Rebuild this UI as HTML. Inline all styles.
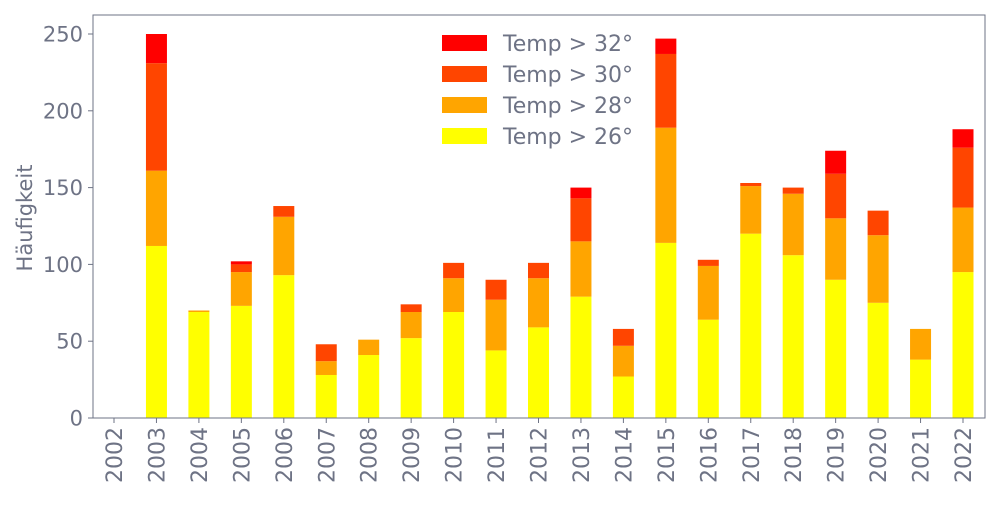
<!DOCTYPE html>
<html><head><meta charset="utf-8"><style>
body{margin:0;background:#fff;}
svg text{font-family:"DejaVu Sans","Liberation Sans",sans-serif;fill:#6e7385;}
</style></head><body>
<svg id="c" width="1000" height="500"></svg>
<script>
const years=[2002,2003,2004,2005,2006,2007,2008,2009,2010,2011,2012,2013,2014,2015,2016,2017,2018,2019,2020,2021,2022];
const t26=[0,112,69,73,93,28,41,52,69,44,59,79,27,114,64,120,106,90,75,38,95];
const t28=[0,49,1,22,38,9,10,17,22,33,32,36,20,75,35,31,40,40,44,20,42];
const t30=[0,70,0,5,7,11,0,5,10,13,10,28,11,48,4,2,4,29,16,0,39];
const t32=[0,19,0,2,0,0,0,0,0,0,0,7,0,10,0,0,0,15,0,0,12];
const yTicks=[0,50,100,150,200,250];
const seriesNames=["Temp > 26°","Temp > 28°","Temp > 30°","Temp > 32°"];
const colors=["#ffff00","#ffa500","#ff4500","#ff0000"];
const NS="http://www.w3.org/2000/svg";
const svg=document.getElementById('c');
const L=93,R=985,T=15,B=418;
const y=v=>B-v*(B-34)/250;
const x=i=>114+i*(963-114)/(years.length-1);
function el(t,a){const e=document.createElementNS(NS,t);for(const k in a)e.setAttribute(k,a[k]);svg.appendChild(e);return e;}
const series=[t26,t28,t30,t32];
years.forEach((yr,i)=>{
  let base=0;
  series.forEach((s,k)=>{
    const v=s[i];
    if(v>0){
      const r=el('rect',{x:x(i)-10.5,y:y(base+v),width:21,height:y(base)-y(base+v),fill:colors[k]});
      
      
    }
    base+=v;
  });
  const tk=el('line',{x1:x(i),x2:x(i),y1:B,y2:B+5,stroke:'#6e7385'});
  
  
  const tx=el('text',{x:0,y:0,'font-size':22,'text-anchor':'end',transform:`translate(${x(i)+8},${B+9}) rotate(-90)`});
  tx.textContent=yr;
  
  
});
yTicks.forEach(v=>{
  const tk=el('line',{x1:L-5,x2:L,y1:y(v),y2:y(v),stroke:'#6e7385'});
  
  
  const tx=el('text',{x:L-10,y:y(v)+7.5,'font-size':21,'text-anchor':'end'});
  tx.textContent=v;
  
  
});
const frame=el('rect',{x:L,y:T,width:R-L,height:B-T,fill:'none',stroke:'#6e7385','stroke-width':1});


const yl=el('text',{x:0,y:0,'font-size':21,'text-anchor':'middle',transform:'translate(32,218) rotate(-90)'});
yl.textContent='Häufigkeit';


[3,2,1,0].forEach((k,j)=>{
  const yy=35+j*31;
  const r=el('rect',{x:442,y:yy,width:45,height:16,fill:colors[k]});
  
  
  const t=el('text',{x:503,y:yy+16,'font-size':22});
  t.textContent=seriesNames[k];
  
  
});
</script>
</body></html>
